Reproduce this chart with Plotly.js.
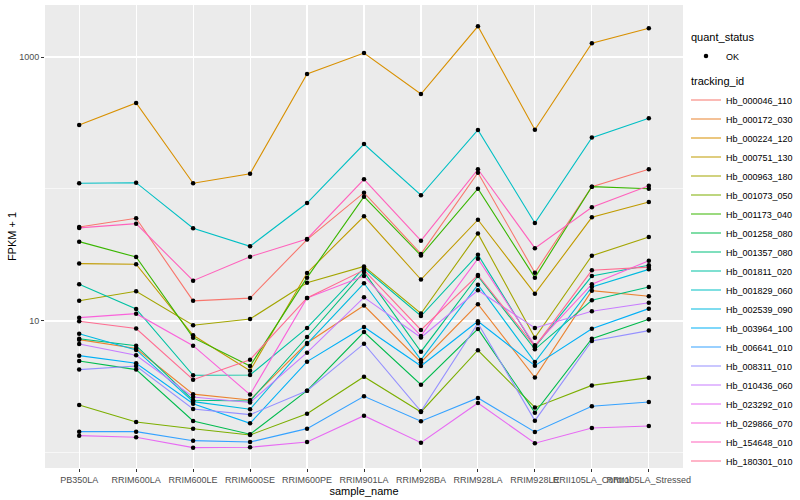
<!DOCTYPE html>
<html>
<head>
<meta charset="utf-8">
<script src="https://cdn.plot.ly/plotly-3.0.1.min.js"></script>
<style>html,body{margin:0;padding:0;background:#fff;}#chart{width:800px;height:500px;}</style>
</head>
<body>
<div id="chart"></div>
<script>
// x categories
const samples = ["PB350LA","RRIM600LA","RRIM600LE","RRIM600SE","RRIM600PE","RRIM901LA","RRIM928BA","RRIM928LA","RRIM928LE","RRII105LA_Control","RRII105LA_Stressed"];

// FPKM + 1 per tracking id
const Hb_000046_110 = [51.5, 60.0, 14.2, 14.9, 41.4, 93.8, 32.2, 132.9, 23.2, 104.1, 141];
const Hb_000172_030 = [7.22, 6.19, 2.79, 2.52, 6.81, 13.1, 4.87, 13.4, 3.73, 16.96, 15.4];
const Hb_000224_120 = [305, 448, 110.5, 130.6, 743, 1072, 524, 1709, 281, 1270, 1650];
const Hb_000751_130 = [27.2, 26.9, 7.79, 4.20, 23.1, 62.1, 20.6, 58.5, 16.1, 61.0, 79.7];
const Hb_000963_180 = [14.25, 16.8, 9.28, 10.35, 19.5, 25.9, 11.4, 45.9, 7.47, 31.2, 43.3];
const Hb_001073_050 = [2.31, 1.717, 1.525, 1.369, 1.985, 3.78, 2.045, 6.00, 2.212, 3.25, 3.72];
const Hb_001173_040 = [39.9, 30.5, 7.47, 4.56, 21.3, 87.4, 31.3, 100.5, 21.3, 104.1, 100.5];
const Hb_001258_080 = [4.98, 4.28, 1.748, 1.386, 2.965, 8.25, 3.29, 8.70, 2.02, 7.34, 10.3];
const Hb_001357_080 = [7.34, 6.50, 2.507, 2.477, 7.56, 23.5, 5.85, 21.9, 6.10, 14.35, 18.1];
const Hb_001811_020 = [19.0, 12.33, 3.88, 3.90, 8.85, 25.2, 10.9, 31.8, 6.35, 21.9, 26.4];
const Hb_001829_060 = [110.5, 111.6, 50.4, 36.8, 78.3, 219, 89.6, 280, 55.3, 245, 343];
const Hb_002539_090 = [8.01, 6.03, 2.447, 2.144, 6.70, 19.3, 5.07, 18.8, 4.89, 18.1, 24.6];
const Hb_003964_100 = [5.46, 4.78, 2.363, 1.679, 4.92, 9.01, 4.56, 9.95, 4.585, 8.74, 12.4];
const Hb_006641_010 = [1.45, 1.45, 1.239, 1.211, 1.528, 2.689, 1.739, 2.61, 1.443, 2.258, 2.434];
const Hb_008311_010 = [4.28, 4.56, 2.154, 1.951, 2.965, 6.73, 2.07, 9.61, 1.757, 7.06, 8.45];
const Hb_010436_060 = [6.70, 5.50, 2.657, 2.413, 5.75, 15.1, 7.50, 17.1, 8.85, 11.84, 13.76];
const Hb_023292_010 = [1.352, 1.315, 1.097, 1.105, 1.211, 1.917, 1.197, 2.392, 1.184, 1.547, 1.602];
const Hb_029866_070 = [10.6, 11.36, 6.50, 2.77, 14.94, 21.9, 7.70, 29.6, 6.54, 19.0, 28.6];
const Hb_154648_010 = [50.7, 54.6, 20.2, 30.7, 41.8, 118.4, 40.6, 141, 35.6, 72.7, 105.9];
const Hb_180301_010 = [9.95, 8.77, 3.59, 5.09, 14.94, 24.3, 8.55, 22.3, 6.39, 24.2, 25.6];

const trackingIds = ["Hb_000046_110","Hb_000172_030","Hb_000224_120","Hb_000751_130","Hb_000963_180","Hb_001073_050","Hb_001173_040","Hb_001258_080","Hb_001357_080","Hb_001811_020","Hb_001829_060","Hb_002539_090","Hb_003964_100","Hb_006641_010","Hb_008311_010","Hb_010436_060","Hb_023292_010","Hb_029866_070","Hb_154648_010","Hb_180301_010"];
const seriesValues = [Hb_000046_110, Hb_000172_030, Hb_000224_120, Hb_000751_130, Hb_000963_180, Hb_001073_050, Hb_001173_040, Hb_001258_080, Hb_001357_080, Hb_001811_020, Hb_001829_060, Hb_002539_090, Hb_003964_100, Hb_006641_010, Hb_008311_010, Hb_010436_060, Hb_023292_010, Hb_029866_070, Hb_154648_010, Hb_180301_010];
const palette = ["#F8766D","#EA8331","#D89000","#C09B00","#A3A500","#7CAE00","#39B600","#00BB4E","#00BF7D","#00C1A3","#00BFC4","#00BAE0","#00B0F6","#35A2FF","#9590FF","#C77CFF","#E76BF3","#FA62DB","#FF62BC","#FF6C91"];
const statusLabel = "OK";

const traces = [];
trackingIds.forEach((id, i) => {
  traces.push({
    type: "scatter", mode: "lines", name: id,
    x: samples, y: seriesValues[i],
    line: {color: palette[i], width: 1.1},
    legendgroup: "tracking_id",
    legendgrouptitle: {text: "tracking_id", font: {size: 11, color: "#000"}},
    legendrank: 100 + i,
    hoverinfo: "x+y+name"
  });
});
const px = [], py = [];
seriesValues.forEach(v => v.forEach((val, j) => { px.push(samples[j]); py.push(val); }));
traces.push({
  type: "scatter", mode: "markers", name: statusLabel,
  x: px, y: py,
  marker: {color: "#000", size: 4.5},
  legendgroup: "quant_status",
  legendgrouptitle: {text: "quant_status", font: {size: 11, color: "#000"}},
  legendrank: 1
});

const font = "Liberation Sans, Arial, Helvetica, sans-serif";
const layout = {
  width: 800, height: 500,
  margin: {l: 45, r: 117, t: 5, b: 32, pad: 0},
  paper_bgcolor: "#FFFFFF",
  plot_bgcolor: "#EBEBEB",
  font: {family: font, size: 9, color: "#4D4D4D"},
  showlegend: true,
  xaxis: {
    type: "category",
    categoryorder: "array", categoryarray: samples,
    range: [-0.6, 10.6],
    showgrid: true, gridcolor: "#FFFFFF", gridwidth: 1.1,
    zeroline: false, showline: false,
    ticks: "outside", ticklen: 3, tickcolor: "#333333", tickwidth: 1,
    tickangle: 0,
    tickfont: {size: 9, color: "#4D4D4D"},
    title: {text: "sample_name", font: {size: 11, color: "#000"}, standoff: 1}
  },
  yaxis: {
    type: "log",
    range: [-0.114, 3.394],
    tickmode: "array", tickvals: [10, 1000], ticktext: ["10", "1000"],
    showgrid: true, gridcolor: "#FFFFFF", gridwidth: 1.1,
    minor: {tickmode: "array", tickvals: [1, 100], showgrid: true, gridcolor: "#FFFFFF", gridwidth: 0.6, ticks: ""},
    zeroline: false, showline: false,
    ticks: "outside", ticklen: 3, tickcolor: "#333333", tickwidth: 1,
    tickfont: {size: 9, color: "#4D4D4D"},
    title: {text: "FPKM + 1", font: {size: 11, color: "#000"}, standoff: 0}
  },
  legend: {
    xref: "container", yref: "container",
    x: 0.8575, y: 0.955, xanchor: "left", yanchor: "top",
    bgcolor: "rgba(0,0,0,0)",
    font: {size: 9, color: "#000"},
    traceorder: "grouped",
    tracegroupgap: 6,
    itemwidth: 30,
    maxheight: 490,
    itemclick: false
  },
  hovermode: "closest"
};

Plotly.newPlot("chart", traces, layout, {displayModeBar: false, staticPlot: true});
</script>
</body>
</html>
